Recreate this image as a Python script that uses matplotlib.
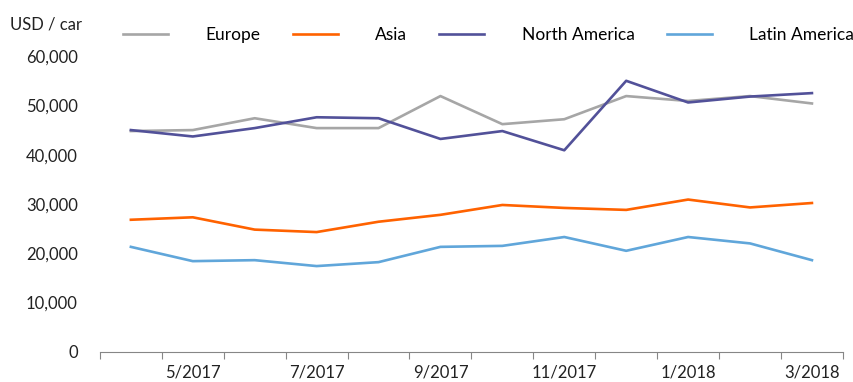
import matplotlib.pyplot as plt
from matplotlib.ticker import FuncFormatter

plt.rcParams['font.family'] = ['Lato', 'DejaVu Sans']

meses = ['4/2017', '5/2017', '6/2017', '7/2017', '8/2017', '9/2017',
         '10/2017', '11/2017', '12/2017', '1/2018', '2/2018', '3/2018']

europa = [44800, 45000, 47400, 45400, 45400, 51900, 46200, 47200, 51900, 50900, 51900, 50400]
asia = [26800, 27300, 24800, 24300, 26400, 27800, 29800, 29200, 28800, 30900, 29300, 30200]
america_norte = [45000, 43700, 45400, 47600, 47400, 43200, 44800, 40900, 55000, 50600, 51800, 52500]
america_latina = [21300, 18400, 18600, 17400, 18200, 21300, 21500, 23300, 20500, 23300, 22000, 18600]

series = [
    ('Europe', europa, '#a6a6a6'),
    ('Asia', asia, '#ff6200'),
    ('North America', america_norte, '#525199'),
    ('Latin America', america_latina, '#60a6da'),
]

fig = plt.figure(figsize=(8.54, 3.82), dpi=100)
ax = fig.add_axes([0.117, 0.079, 0.870, 0.774])

x = range(len(meses))
for nome, valores, cor in series:
    ax.plot(x, valores, color=cor, linewidth=1.9, label=nome)

ax.set_xlim(-0.5, len(meses) - 0.5)
ax.set_ylim(0, 60000)
ax.set_yticks(range(0, 60001, 10000))
ax.yaxis.set_major_formatter(FuncFormatter(lambda v, p: f'{int(v):,}'))
ax.tick_params(axis='y', length=0, pad=16, labelsize=12, labelcolor='#222222')

# marcas entre categorias, rótulos a cada dois meses
ax.set_xticks([i - 0.5 for i in range(len(meses) + 1)])
ax.set_xticklabels([])
ax.set_xticks(list(range(1, len(meses), 2)), minor=True)
ax.set_xticklabels(meses[1::2], minor=True)
ax.tick_params(axis='x', which='major', length=5, color='#868686', direction='out')
ax.tick_params(axis='x', which='minor', length=0, pad=9, labelsize=12, labelcolor='#222222')

for lado in ['top', 'right', 'left']:
    ax.spines[lado].set_visible(False)
ax.spines['bottom'].set_color('#868686')

fig.text(0.012, 0.935, 'USD / car', fontsize=12, color='#222222', va='center')

ax.legend(loc='center left', bbox_to_anchor=(0.031, 1.071), ncol=4, frameon=False,
          fontsize=12.5, handlelength=2.6, handletextpad=2.15, columnspacing=1.85,
          borderaxespad=0, borderpad=0)

plt.savefig('out.png', dpi=100)
